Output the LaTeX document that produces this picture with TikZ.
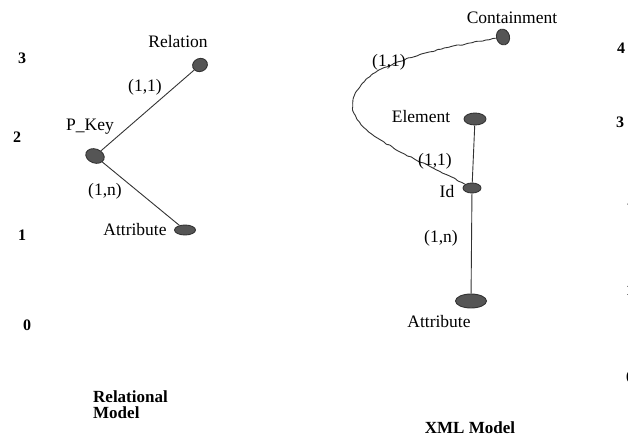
\documentclass[tikz,border=0pt]{standalone}
\usepackage{fontspec}
\setmainfont{Liberation Serif}
\usetikzlibrary{shapes.geometric,decorations.pathmorphing}
\definecolor{inkfill}{HTML}{555555}
\definecolor{inkline}{HTML}{333333}
\tikzset{
  entity/.style={ellipse, draw=inkline, fill=inkfill, line width=0.9pt, inner sep=0pt},
  link/.style={draw=inkline, line width=0.9pt},
  wavy/.style={link, decorate, decoration={random steps, segment length=3.5pt, amplitude=0.7pt}, rounded corners=1pt},
  lbl/.style={font=\fontsize{17.5}{19}\selectfont, inner sep=0pt},
  card/.style={font=\fontsize{17.5}{19}\selectfont, inner sep=0pt},
  level/.style={font=\fontsize{16}{18}\selectfont\bfseries, inner sep=0pt},
  heading/.style={font=\fontsize{17}{18}\selectfont\bfseries, inner sep=0pt, align=left}
}
\begin{document}
\begin{tikzpicture}[x=1pt, y=-1pt]
  \useasboundingbox (0,0) rectangle (628,438);
  \clip (0,0) rectangle (628,438);

  % level numbers, left scale
  \node[level] (l3) at (22,58) {3};
  \node[level] (l2) at (17,137) {2};
  \node[level] (l1) at (22,235) {1};
  \node[level] (l0) at (27,325) {0};

  % level numbers, right scale (running off the edge)
  \node[level] (r4) at (621,48) {4};
  \node[level] (r3) at (620,122) {3};
  \node[level] (r2) at (631,200) {2};
  \node[level] (r1) at (630,290) {1};
  \node[level] (r0) at (630,377) {0};

  % relational model
  \node[entity, minimum width=15pt, minimum height=13pt, rotate=20] (rel) at (200,65) {};
  \node[entity, minimum width=19pt, minimum height=14pt, rotate=-20] (pk) at (95,156) {};
  \node[entity, minimum width=21pt, minimum height=10pt] (rattr) at (185,230) {};
  \draw[link] (pk) -- (rel);
  \draw[link] (pk) -- (rattr);

  \node[lbl] (relt) at (178,42) {Relation};
  \node[lbl] (pkt) at (90,127) {P\_Key};
  \node[lbl] (rattrt) at (135,230) {Attribute};
  \node[card] (c11a) at (145,87) {(1,1)};
  \node[card] (c1na) at (105,191) {(1,n)};
  \node[heading, anchor=west] (relmodel) at (93,405) {Relational\\[-2pt]Model};

  % XML model
  \node[entity, minimum width=13pt, minimum height=16pt, rotate=15] (cont) at (503,37) {};
  \node[entity, minimum width=22pt, minimum height=12pt] (elem) at (475,119) {};
  \node[entity, minimum width=18pt, minimum height=10pt] (id) at (472,188) {};
  \node[entity, minimum width=31pt, minimum height=14pt] (xattr) at (471,301) {};
  \coordinate (bend) at (353,105);
  \draw[wavy] (cont) .. controls (430,50) and (355,65) .. (bend)
                     .. controls (352,135) and (420,160) .. (id);
  \draw[link] (elem) -- (id);
  \draw[link] (id) -- (xattr);

  \node[lbl] (contt) at (512,18) {Containment};
  \node[lbl] (elemt) at (421,117) {Element};
  \node[lbl] (idt) at (447,192) {Id};
  \node[lbl] (xattrt) at (439,322) {Attribute};
  \node[card] (c11b) at (389,62) {(1,1)};
  \node[card] (c11c) at (435,161) {(1,1)};
  \node[card] (c1nb) at (441,238) {(1,n)};
  \node[heading] (xmlmodel) at (470,428) {XML Model};
\end{tikzpicture}
\end{document}
